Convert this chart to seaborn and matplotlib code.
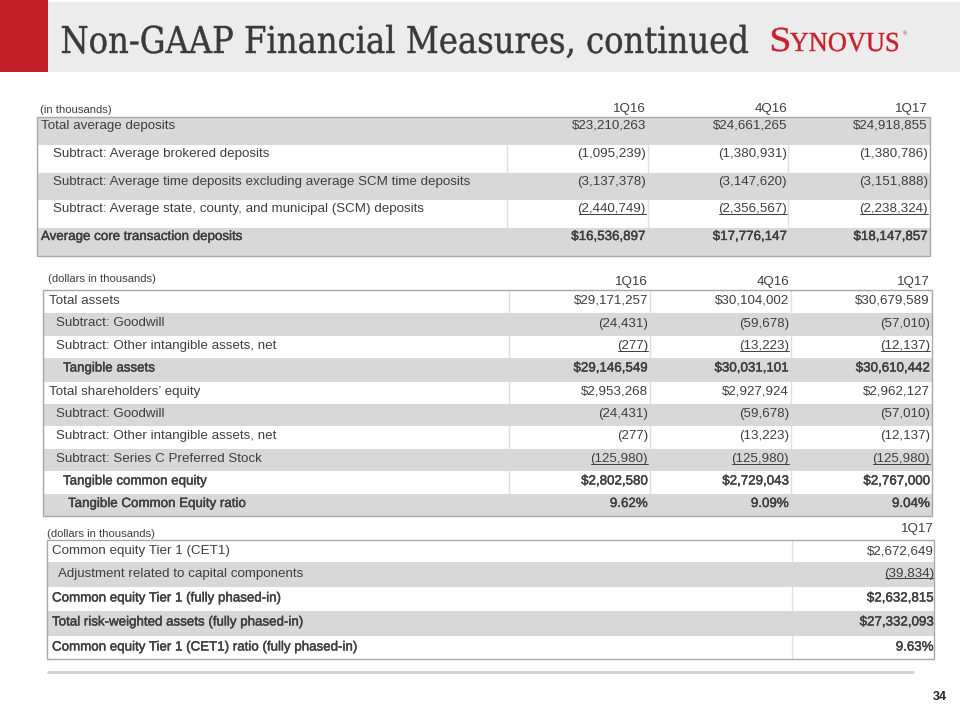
import matplotlib
matplotlib.use("Agg")
import matplotlib.pyplot as plt
import matplotlib.patheffects as pe
import seaborn as sns
from matplotlib.patches import Rectangle, PathPatch
from matplotlib.textpath import TextPath
from matplotlib.font_manager import FontProperties
from matplotlib.transforms import Affine2D

sns.set_theme(style="white")
plt.rcParams['font.family'] = ['Liberation Sans', 'DejaVu Sans']

# ---------------- data ----------------
title_text = "Non-GAAP Financial Measures, continued"
brand_text = "SYNOVUS"
page_no = "34"

t1_unit = "(in thousands)"
t1_periods = ["1Q16", "4Q16", "1Q17"]
t1_labels = ["Total average deposits",
             "Subtract: Average brokered deposits",
             "Subtract: Average time deposits excluding average SCM time deposits",
             "Subtract: Average state, county, and municipal (SCM) deposits",
             "Average core transaction deposits"]
t1_1q16 = [23210263, -1095239, -3137378, -2440749, 16536897]
t1_4q16 = [24661265, -1380931, -3147620, -2356567, 17776147]
t1_1q17 = [24918855, -1380786, -3151888, -2238324, 18147857]
t1_indent = [0, 1, 1, 1, 0]
t1_bold = [False, False, False, False, True]
t1_under = [False, False, False, True, False]

t2_unit = "(dollars in thousands)"
t2_periods = ["1Q16", "4Q16", "1Q17"]
t2_labels = ["Total assets", "Subtract: Goodwill",
             "Subtract: Other intangible assets, net", "Tangible assets",
             "Total shareholders\u2019 equity", "Subtract: Goodwill",
             "Subtract: Other intangible assets, net",
             "Subtract: Series C Preferred Stock", "Tangible common equity",
             "Tangible Common Equity ratio"]
t2_1q16 = [29171257, -24431, -277, 29146549, 2953268, -24431, -277, -125980, 2802580, 9.62]
t2_4q16 = [30104002, -59678, -13223, 30031101, 2927924, -59678, -13223, -125980, 2729043, 9.09]
t2_1q17 = [30679589, -57010, -12137, 30610442, 2962127, -57010, -12137, -125980, 2767000, 9.04]
t2_kind = ["usd"] * 9 + ["pct"]
t2_indent = [0, 1, 1, 2, 0, 1, 1, 1, 2, 3]
t2_bold = [False, False, False, True, False, False, False, False, True, True]
t2_under = [False, False, True, False, False, False, False, True, False, False]

t3_unit = "(dollars in thousands)"
t3_periods = ["1Q17"]
t3_labels = ["Common equity Tier 1 (CET1)",
             "Adjustment related to capital components",
             "Common equity Tier 1 (fully phased-in)",
             "Total risk-weighted assets (fully phased-in)",
             "Common equity Tier 1 (CET1) ratio (fully phased-in)"]
t3_1q17 = [2672649, -39834, 2632815, 27332093, 9.63]
t3_kind = ["usd", "usd", "usd", "usd", "pct"]
t3_indent = [0, 1, 0, 0, 0]
t3_bold = [False, False, True, True, True]
t3_under = [False, True, False, False, False]


def fmt(v, kind):
    if kind == "pct":
        return f"{v:.2f}%"
    if v < 0:
        return f"({-v:,})"
    return f"${v:,}"


# ---------------- style ----------------
TXT = "#3e3e3e"
GRAY = "#d8d8d8"
BORDER = "#a8a8a8"
DIV = "#dedede"
FS = 9.6
MEDIUM = [pe.withStroke(linewidth=0.3, foreground=TXT)]

fig = plt.figure(figsize=(9.6, 7.2), dpi=100)
ax = fig.add_axes([0, 0, 1, 1])
ax.set_xlim(0, 960)
ax.set_ylim(720, 0)
ax.axis("off")
sns.despine(ax=ax, left=True, bottom=True)

# header band
ax.add_patch(Rectangle((0, 2), 960, 70, color="#ececec", lw=0, zorder=0))
ax.add_patch(Rectangle((0, 0), 48, 72, color="#c21f26", lw=0, zorder=1))


def path_text(s, x, base, width, cap, family, color, weight="normal"):
    fp = FontProperties(family=family, weight=weight)
    tp = TextPath((0, 0), s, size=100, prop=fp)
    ext = tp.get_extents()
    capref = TextPath((0, 0), "H", size=100, prop=fp).get_extents().height
    sx = width / ext.width
    sy = cap / capref
    tr = Affine2D().translate(-ext.x0, 0).scale(sx, -sy).translate(x, base)
    p = tr.transform_path(tp)
    ax.add_patch(PathPatch(p, facecolor=color, edgecolor=color, lw=0.3,
                           zorder=3))


path_text(title_text, 62, 53, 686, 27, "DejaVu Serif", "#3a3a3a")
path_text(brand_text[0], 772, 51, 17, 23, "Liberation Serif", "#c8202f")
path_text(brand_text[1:], 790, 51, 108, 18, "Liberation Serif", "#c8202f")
ax.text(903, 34, "\u00ae", fontsize=4, color="#c8202f", ha="left", va="center")

underline_jobs = []


def draw_table(unit, unit_xy, periods, head_y, col_rights, div_xs, box,
               row_edges, first_gray, labels, indent_xs, indents, cols,
               kinds, bolds, unders, text_off):
    left, right = box
    ax.text(unit_xy[0], unit_xy[1], unit, fontsize=8.1, color=TXT,
            ha="left", va="center")
    for p, xr in zip(periods, col_rights):
        ax.text(xr, head_y, p, fontsize=FS, color=TXT, ha="right", va="center")
    n = len(labels)
    for i in range(n):
        top, bot = row_edges[i], row_edges[i + 1]
        gray = (i % 2 == 0) == first_gray
        if gray:
            ax.add_patch(Rectangle((left, top), right - left, bot - top,
                                   color=GRAY, lw=0, zorder=1))
        else:
            for dx in div_xs:
                ax.plot([dx, dx], [top, bot], color=DIV, lw=1, zorder=2)
        yc = top + text_off
        eff = MEDIUM if bolds[i] else None
        ax.text(indent_xs[indents[i]], yc, labels[i], fontsize=FS, color=TXT,
                ha="left", va="center", path_effects=eff, zorder=4)
        for col, xr in zip(cols, col_rights):
            t = ax.text(xr, yc, fmt(col[i], kinds[i]), fontsize=FS, color=TXT,
                        ha="right", va="center", path_effects=eff, zorder=4)
            if unders[i]:
                underline_jobs.append(t)
    ax.add_patch(Rectangle((left, row_edges[0]), right - left,
                           row_edges[-1] - row_edges[0], fill=False,
                           edgecolor=BORDER, lw=1, zorder=5))


# table 1
draw_table(t1_unit, (40, 110), t1_periods, 109, [646, 787, 928],
           [507, 648, 788], (37, 930),
           [117, 145, 172.5, 200, 228, 256], True,
           t1_labels, [41, 53], t1_indent,
           [t1_1q16, t1_4q16, t1_1q17], ["usd"] * 5, t1_bold, t1_under, 9.0)

# table 2
draw_table(t2_unit, (48, 279), t2_periods, 282, [648, 789, 930],
           [509, 650, 791], (43, 932),
           [290, 313, 335.5, 358, 381.5, 403.5, 426, 448.5, 471, 493.5, 516],
           False, t2_labels, [49, 56, 63, 68], t2_indent,
           [t2_1q16, t2_4q16, t2_1q17], t2_kind, t2_bold, t2_under, 10.5)

# table 3
draw_table(t3_unit, (47, 534), t3_periods, 529, [934],
           [792], (47, 934),
           [539.5, 562, 587, 611, 636, 659], False,
           t3_labels, [52, 58], t3_indent, [t3_1q17], t3_kind,
           t3_bold, t3_under, 11.5)

# underlines
fig.canvas.draw()
r = fig.canvas.get_renderer()
inv = ax.transData.inverted()
for t in underline_jobs:
    bb = t.get_window_extent(renderer=r)
    (x0, y0), (x1, y1) = inv.transform([[bb.x0, bb.y0], [bb.x1, bb.y1]])
    ax.plot([x0 + 1, x1], [y0 - 1.5, y0 - 1.5], color=TXT, lw=0.7, zorder=4)

# footer
ax.plot([48, 913], [672, 672], color="#d0d0d0", lw=2)
ax.text(940, 697, page_no, fontsize=9, color="#222222", ha="center",
        va="center", fontweight="bold")

fig.savefig("out.png", dpi=100)
